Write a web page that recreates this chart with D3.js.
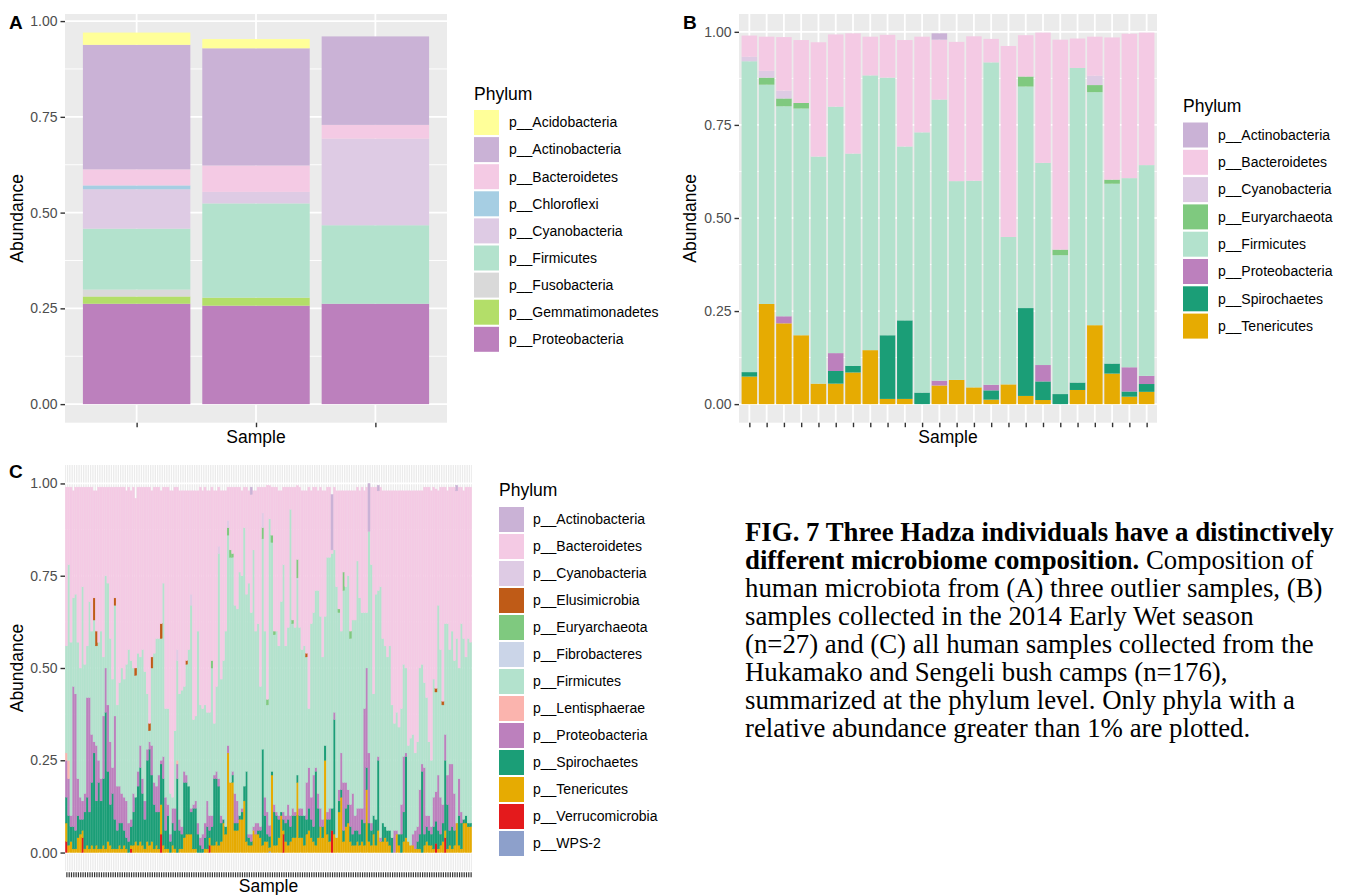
<!DOCTYPE html>
<html>
<head>
<meta charset="utf-8">
<script src="https://cdn.jsdelivr.net/npm/d3@7"></script>
<style>
  body { margin: 0; background: #fff; }
</style>
</head>
<body>
<svg id="fig" width="1347" height="895"></svg>
<script>
// ---------- colours (shared across the three panels) ----------
const phylumColors = {
  "p__Acidobacteria": "#ffff99",
  "p__Actinobacteria": "#cab2d6",
  "p__Bacteroidetes": "#f4cae4",
  "p__Chloroflexi": "#a6cee3",
  "p__Cyanobacteria": "#decbe4",
  "p__Elusimicrobia": "#bf5b17",
  "p__Euryarchaeota": "#7fc97f",
  "p__Fibrobacteres": "#cbd5e8",
  "p__Firmicutes": "#b3e2cd",
  "p__Fusobacteria": "#d9d9d9",
  "p__Gemmatimonadetes": "#b3de69",
  "p__Lentisphaerae": "#fbb4ae",
  "p__Proteobacteria": "#bc80bd",
  "p__Spirochaetes": "#1b9e77",
  "p__Tenericutes": "#e6ab02",
  "p__Verrucomicrobia": "#e41a1c",
  "p__WPS-2": "#8da0cb"
};

const yTicks = [0, 0.25, 0.5, 0.75, 1];
const yMinor = [0.125, 0.375, 0.625, 0.875];

// ---------- panel A : three outlier samples ----------
const samplesA = ["A1", "A2", "A3"];
const phylaA = ["p__Acidobacteria", "p__Actinobacteria", "p__Bacteroidetes", "p__Chloroflexi",
  "p__Cyanobacteria", "p__Firmicutes", "p__Fusobacteria", "p__Gemmatimonadetes", "p__Proteobacteria"];
const aAcido   = [0.032, 0.024, 0];
const aActino  = [0.325, 0.306, 0.231];
const aBacter  = [0.042, 0.069, 0.036];
const aChloro  = [0.010, 0, 0];
const aCyano   = [0.103, 0.030, 0.226];
const aFirm    = [0.159, 0.246, 0.205];
const aFuso    = [0.018, 0, 0];
const aGemma   = [0.019, 0.021, 0];
const aProteo  = [0.262, 0.257, 0.262];

// ---------- panel B : 2014 Early Wet season ----------
const samplesB = d3.range(1, 25).map(i => "B" + i);
const phylaB = ["p__Actinobacteria", "p__Bacteroidetes", "p__Cyanobacteria", "p__Euryarchaeota",
  "p__Firmicutes", "p__Proteobacteria", "p__Spirochaetes", "p__Tenericutes"];
const bActino = [0, 0, 0, 0, 0, 0, 0, 0, 0, 0, 0, 0.017, 0, 0, 0, 0, 0, 0, 0, 0, 0, 0, 0, 0];
const bBacter = [0.057, 0.092, 0.144, 0.169, 0.307, 0.194, 0.323, 0.104, 0.115, 0.286, 0.257, 0.161,
  0.374, 0.388, 0.063, 0.513, 0.111, 0.350, 0.564, 0.079, 0.105, 0.382, 0.388, 0.356];
const bCyano  = [0.012, 0.018, 0.021, 0, 0, 0, 0, 0, 0, 0, 0, 0, 0, 0, 0, 0, 0, 0, 0, 0, 0.025, 0, 0, 0];
const bEury   = [0, 0.019, 0.021, 0.015, 0, 0, 0, 0, 0, 0, 0, 0, 0, 0, 0, 0, 0.027, 0, 0.015, 0, 0.019, 0.011, 0, 0];
const bFirm   = [0.835, 0.589, 0.564, 0.609, 0.610, 0.662, 0.570, 0.738, 0.692, 0.467, 0.699, 0.755,
  0.534, 0.555, 0.866, 0.396, 0.595, 0.543, 0.373, 0.845, 0.626, 0.483, 0.508, 0.566];
const bProteo = [0, 0, 0.019, 0, 0, 0.048, 0, 0, 0, 0, 0, 0.013, 0, 0, 0.015, 0, 0, 0.044, 0, 0, 0, 0, 0.065, 0.022];
const bSpiro  = [0.012, 0, 0, 0, 0, 0.034, 0.018, 0, 0.171, 0.211, 0.031, 0, 0, 0, 0.025, 0, 0.236, 0.050,
  0.027, 0.020, 0, 0.027, 0.014, 0.021];
const bTener  = [0.074, 0.269, 0.217, 0.185, 0.055, 0.055, 0.085, 0.145, 0.014, 0.014, 0, 0.050, 0.065,
  0.045, 0.012, 0.053, 0.022, 0.011, 0, 0.038, 0.212, 0.082, 0.020, 0.033];

// ---------- panel C : all Hukamako and Sengeli samples (n=176) ----------
const samplesC = d3.range(1, 177).map(i => "C" + i);
const phylaC = ["p__Actinobacteria", "p__Bacteroidetes", "p__Cyanobacteria", "p__Elusimicrobia",
  "p__Euryarchaeota", "p__Fibrobacteres", "p__Firmicutes", "p__Lentisphaerae", "p__Proteobacteria",
  "p__Spirochaetes", "p__Tenericutes", "p__Verrucomicrobia", "p__WPS-2"];
const cTener = [
  .05,.02,.03,.01,.01,.04,.05,.02,.01,.02, .01,.02,.01,.02,.01,.01,.02,.01,.03,.02,
  .01,.01,.01,.02,.01,.02,.01,0,.01,.02, .03,.02,.03,.02,.01,.03,.02,.03,.01,.02,
  .01,.08,.02,.01,.01,0,.02,.01,0,.01, .01,.04,.05,.05,.05,.01,.01,0,0,0,
  .01,.01,.02,.02,.02,.03,.02,.03,.08,.05, .27,.19,.19,.06,.06,.09,.09,.14,.03,.02,
  .02,.06,.05,.05,.04,.02,.03,.03,.01,.21, .02,.02,.04,.10,.01,.03,.02,.03,.04,.04,
  .19,.04,.04,.02,.05,.06,.04,.03,.02,.04, .07,.04,.25,.05,.03,0,.05,.04,.11,.15,
  .03,.07,.08,.03,.02,.02,.03,.02,.03,.02, .17,.03,.02,.05,.02,.06,.03,.03,.04,.03,
  .02,0,0,.05,.02,0,.03,.04,.03,.02, .02,.01,.01,.01,0,.02,.03,.02,.02,.01,
  0,.01,.02,.03,.02,.01,.02,.01,.02,.08, .02,.01,.08,.08,.07,.07];
const cSpiro = [
  .07,.08,.04,.06,.05,.06,.04,.03,.10,.13, .10,.17,.26,.12,.18,.13,.18,.37,.19,.11,
  .15,.08,.05,.06,.07,.04,.03,.03,.05,.09, .12,.16,.20,.14,.08,.22,.26,.18,.12,.09,
  .10,.11,.18,.05,.09,.03,.06,.05,.20,.05, .04,.15,.14,.13,.06,.11,.11,.05,.02,.01,
  .03,.06,.02,.05,.18,.17,.16,.05,.01,.02, 0,0,.02,.02,.02,.01,.02,.04,.19,.02,
  .01,0,0,.01,.02,.26,.07,.02,.03,.01, .09,.08,.05,.01,.03,.05,.07,.04,.06,.06,
  .02,.06,.06,.08,.04,.06,.05,.04,.20,.08, 0,.03,.04,.04,.06,.06,.31,0,.03,.02,
  .03,.05,.05,.04,.03,.04,.03,.03,.06,.06, .06,.05,.04,.05,.07,.19,0,.05,.03,.03,
  .04,.04,0,0,.03,.05,.08,.22,0,0, 0,0,.02,.04,.22,.03,.04,.04,.03,.06,
  .06,.05,.03,.05,.19,.12,.04,.06,.04,0, .08,.07,.01,.02,.01,.01];
const cProteo = [
  .10,.10,.03,.38,.37,.10,.06,.05,.05,.27, .31,.13,.03,.15,.06,.06,.17,.12,.18,.17,
  .07,.28,.12,.10,.08,.09,.10,.05,.02,.05, 0,.04,.06,.04,.05,.03,.02,.08,.06,.07,
  .10,.01,.06,.09,.03,.02,.04,.06,.04,.03, .02,.03,.02,0,.01,.01,.02,.03,.02,.04,
  .04,.07,.04,.03,.01,.02,.02,.02,0,0, .02,0,.01,.08,.06,0,.01,0,0,.01,
  .02,.01,.03,.02,.01,0,.05,.06,.03,0, .02,.01,.01,0,.02,.02,.04,.03,.02,.01,
  0,.02,.02,0,.10,.11,.06,.14,.01,.04, .05,.02,0,.02,.03,0,.02,0,.03,.10,
  .13,.07,.04,.06,.11,.04,.06,.07,.03,.31, .27,.19,.02,0,0,.01,.01,0,0,0,
  0,0,.06,.01,0,.08,.15,.01,0,0, .03,.05,.04,.12,.02,.18,.03,.04,.02,.08,
  .08,.15,.10,.05,.07,.08,.18,.17,.10,0, .10,.03,0,0,0,0];
const cFirm = [
  .29,.53,.47,.24,.27,.37,.35,.58,.35,.14, .26,.28,.33,.27,.32,.40,.16,.25,.33,.28,
  .24,.30,.22,.28,.34,.32,.37,.47,.43,.34, .33,.32,.24,.35,.35,.15,.03,.21,.35,.40,
  .37,.33,.47,.24,.26,.11,.03,.21,.27,.34, .37,.23,.30,.37,.55,.23,.23,.52,.36,.34,
  .32,.24,.28,.40,.14,.23,.61,.37,.43,.53, .57,.61,.58,.51,.52,.66,.63,.70,.48,.68,
  .60,.75,.52,.54,.38,.57,.45,.29,.83,.62, .46,.49,.46,.57,.67,.46,.48,.83,.50,.50,
  .53,.49,.43,.46,.34,.16,.47,.44,.48,.55, .52,.44,.35,.69,.68,.69,.44,.68,.48,.33,
  .52,.53,.58,.45,.47,.53,.67,.57,.53,.26, .15,.60,.70,.33,.61,.45,.68,.50,.49,.47,
  .50,.36,.29,.32,.29,.26,.25,.23,.26,.29, .27,.21,.23,.33,.27,.23,.32,.20,.18,.32,
  .27,.46,.40,.27,.30,.41,.31,.36,.36,.50, .30,.51,.49,.43,.50,.49];
const cBacter = [
  .43,.21,.42,.29,.29,.42,.49,.27,.48,.43, .31,.39,.29,.38,.42,.39,.46,.24,.26,.41,
  .52,.30,.59,.53,.49,.52,.47,.44,.46,.49, .46,.45,.46,.44,.50,.56,.64,.45,.45,.41,
  .41,.36,.26,.60,.60,.82,.83,.66,.44,.55, .54,.53,.46,.43,.28,.62,.61,.38,.59,.59,
  .59,.60,.60,.47,.63,.53,.16,.51,.46,.38, .09,.17,.18,.32,.33,.23,.23,.11,.29,.25,
  .32,.16,.38,.37,.54,.07,.39,.58,.09,.13, .39,.39,.42,.30,.21,.43,.38,.06,.36,.38,
  .20,.38,.43,.42,.44,.60,.36,.34,.28,.27, .35,.45,.34,.19,.19,.01,.17,.26,.32,.38,
  .22,.26,.23,.38,.35,.35,.20,.29,.34,.33, .34,0,.21,.56,.29,.27,.27,.40,.42,.45,
  .42,.58,.63,.60,.64,.59,.47,.48,.69,.67, .66,.71,.68,.48,.47,.53,.57,.69,.73,.52,
  .54,.31,.44,.58,.37,.36,.44,.39,.47,.40, .49,.37,.40,.46,.41,.42];
// rare phyla: [sample index, abundance]
const cActino = [[80, .02], [115, .15], [131, .13], [135, .015], [169, .015]];
const cCyano  = [[48, .03], [54, .03], [66, .02], [70, .02], [85, .04]];
const cElusi  = [[12, .06], [13, .04], [21, .02], [30, .02], [36, .02], [37, .03], [41, .04],
  [52, .01], [104, .01], [160, .01], [163, .01]];
const cEury   = [[63, .02], [70, .02], [71, .02], [72, .01], [85, .03], [87, .015], [89, .02],
  [90, .01], [98, .01], [100, .05], [118, .01], [120, .05], [123, .02]];
const cFibro  = [[100, .004]];
const cLenti  = [[0, .02], [1, .05], [48, .01]];
const cVerru  = [[0, .03], [7, .04], [28, .01], [41, .05], [62, .02], [94, .05], [115, .06],
  [160, .025], [164, .04]];
const cWps    = [[88, .004]];

const captionLines = [
  [["FIG. 7 Three Hadza individuals have a distinctively", true]],
  [["different microbiome composition.", true], [" Composition of", false]],
  [["human microbiota from (A) three outlier samples, (B)", false]],
  [["samples collected in the 2014 Early Wet season", false]],
  [["(n=27) and (C) all human samples collected from the", false]],
  [["Hukamako and Sengeli bush camps (n=176),", false]],
  [["summarized at the phylum level. Only phyla with a", false]],
  [["relative abundance greater than 1% are plotted.", false]]
];

// ---------- drawing ----------
const svg = d3.select("#fig");
const FONT = "'Liberation Sans', Arial, Helvetica, sans-serif";

function expandSparse(list, n) {
  const a = new Array(n).fill(0);
  list.forEach(([i, v]) => { a[i] = v; });
  return a;
}

function drawPanel(o) {
  const g = svg.append("g");

  const x = d3.scalePoint().domain(o.samples).range([o.left, o.right]).padding(0.6);
  const bw = x.step() * 0.9;

  const rows = o.samples.map((s, i) => {
    const r = { sample: s };
    o.phyla.forEach(p => { r[p] = o.values[p][i]; });
    return r;
  });
  // ggplot stacks the first factor level on top
  const keys = o.phyla.slice().reverse();
  const stacked = d3.stack().keys(keys)(rows);
  const maxTotal = d3.max(rows, r => d3.sum(keys, k => r[k]));

  const y = d3.scaleLinear()
    .domain([-0.05 * maxTotal, 1.05 * maxTotal])
    .range([o.bottom, o.top]);

  // panel background + grid
  g.append("rect")
    .attr("x", o.left).attr("y", o.top)
    .attr("width", o.right - o.left).attr("height", o.bottom - o.top)
    .attr("fill", "#ebebeb");

  g.selectAll(".minor").data(yMinor).enter().append("line")
    .attr("x1", o.left).attr("x2", o.right)
    .attr("y1", d => y(d)).attr("y2", d => y(d))
    .attr("stroke", "#fff").attr("stroke-width", 0.9);

  g.selectAll(".major").data(yTicks).enter().append("line")
    .attr("x1", o.left).attr("x2", o.right)
    .attr("y1", d => y(d)).attr("y2", d => y(d))
    .attr("stroke", "#fff").attr("stroke-width", 1.8);

  g.selectAll(".xgrid").data(o.samples).enter().append("line")
    .attr("x1", d => x(d)).attr("x2", d => x(d))
    .attr("y1", o.top).attr("y2", o.bottom)
    .attr("stroke", "#fff").attr("stroke-width", o.xGridWidth || 1.8);

  // stacked bars
  stacked.forEach(layer => {
    g.append("g")
      .attr("fill", phylumColors[layer.key])
      .attr("stroke", o.barOutline ? phylumColors[layer.key] : "none")
      .attr("stroke-width", o.barOutline || 0)
      .selectAll("rect")
      .data(layer.filter(d => d[1] - d[0] > 0))
      .enter().append("rect")
      .attr("x", d => x(d.data.sample) - bw / 2)
      .attr("width", bw)
      .attr("y", d => y(d[1]))
      .attr("height", d => y(d[0]) - y(d[1]));
  });

  // axes
  const yAxis = d3.axisLeft(y)
    .tickValues(yTicks)
    .tickFormat(d3.format(".2f"))
    .tickSize(4.5)
    .tickPadding(3);
  const ya = g.append("g").attr("transform", "translate(" + o.left + ",0)").call(yAxis);
  ya.select(".domain").remove();
  ya.selectAll("line").attr("stroke", "#333").attr("stroke-width", 1.4);
  ya.selectAll("text").attr("fill", "#4d4d4d").attr("font-family", FONT).attr("font-size", "14px");

  const xAxis = d3.axisBottom(x).tickSize(o.xTickLen || 4.5).tickFormat("");
  const xa = g.append("g").attr("transform", "translate(0," + (o.bottom + (o.xTickGap || 0)) + ")").call(xAxis);
  xa.select(".domain").remove();
  xa.selectAll("line").attr("stroke", "#333").attr("stroke-width", o.xTickWidth || 1.4);

  // titles
  g.append("text")
    .attr("transform", "translate(" + o.yTitleX + "," + ((o.top + o.bottom) / 2) + ") rotate(-90)")
    .attr("text-anchor", "middle").attr("dy", "0.35em")
    .attr("font-family", FONT).attr("font-size", "17.5px").attr("fill", "#000")
    .text("Abundance");

  g.append("text")
    .attr("x", (o.left + o.right) / 2).attr("y", o.xTitleY)
    .attr("text-anchor", "middle")
    .attr("font-family", FONT).attr("font-size", "17.5px").attr("fill", "#000")
    .text("Sample");

  g.append("text")
    .attr("x", o.tagX).attr("y", o.tagY)
    .attr("font-family", FONT).attr("font-size", "19px").attr("font-weight", "bold")
    .text(o.tag);

  // legend
  const lg = g.append("g");
  lg.append("text")
    .attr("x", o.legendX).attr("y", o.legendTitleY)
    .attr("font-family", FONT).attr("font-size", "17.5px").attr("fill", "#000")
    .text("Phylum");

  const item = lg.selectAll(".item").data(o.phyla).enter().append("g")
    .attr("transform", (d, i) => "translate(" + o.legendX + "," + (o.legendTop + i * o.legendStep) + ")");
  item.append("rect")
    .attr("width", 25).attr("height", 25)
    .attr("fill", d => phylumColors[d]);
  item.append("text")
    .attr("x", o.legendTextDx).attr("y", 12.5).attr("dy", "0.35em")
    .attr("font-family", FONT).attr("font-size", "14px").attr("fill", "#000")
    .text(d => d);
}

drawPanel({
  samples: samplesA, phyla: phylaA,
  values: {
    "p__Acidobacteria": aAcido, "p__Actinobacteria": aActino, "p__Bacteroidetes": aBacter,
    "p__Chloroflexi": aChloro, "p__Cyanobacteria": aCyano, "p__Firmicutes": aFirm,
    "p__Fusobacteria": aFuso, "p__Gemmatimonadetes": aGemma, "p__Proteobacteria": aProteo
  },
  left: 65, right: 447, top: 14, bottom: 422.7,
  yTitleX: 17, xTitleY: 443, tag: "A", tagX: 9, tagY: 29,
  legendX: 474, legendTitleY: 100, legendTop: 110, legendStep: 27.1, legendTextDx: 35
});

drawPanel({
  samples: samplesB, phyla: phylaB,
  values: {
    "p__Actinobacteria": bActino, "p__Bacteroidetes": bBacter, "p__Cyanobacteria": bCyano,
    "p__Euryarchaeota": bEury, "p__Firmicutes": bFirm, "p__Proteobacteria": bProteo,
    "p__Spirochaetes": bSpiro, "p__Tenericutes": bTener
  },
  left: 739, right: 1157, top: 14, bottom: 422.7,
  yTitleX: 690, xTitleY: 443, tag: "B", tagX: 683, tagY: 29,
  legendX: 1183, legendTitleY: 112, legendTop: 122.5, legendStep: 27.3, legendTextDx: 35
});

const nC = samplesC.length;
drawPanel({
  samples: samplesC, phyla: phylaC,
  values: {
    "p__Actinobacteria": expandSparse(cActino, nC), "p__Bacteroidetes": cBacter,
    "p__Cyanobacteria": expandSparse(cCyano, nC), "p__Elusimicrobia": expandSparse(cElusi, nC),
    "p__Euryarchaeota": expandSparse(cEury, nC), "p__Fibrobacteres": expandSparse(cFibro, nC),
    "p__Firmicutes": cFirm, "p__Lentisphaerae": expandSparse(cLenti, nC),
    "p__Proteobacteria": cProteo, "p__Spirochaetes": cSpiro, "p__Tenericutes": cTener,
    "p__Verrucomicrobia": expandSparse(cVerru, nC), "p__WPS-2": expandSparse(cWps, nC)
  },
  left: 65, right: 472, top: 465, bottom: 871,
  xGridWidth: 1.0, xTickWidth: 1.2, xTickGap: 1.3, xTickLen: 5, barOutline: 0.4,
  yTitleX: 17, xTitleY: 892, tag: "C", tagX: 9, tagY: 478,
  legendX: 499, legendTitleY: 496, legendTop: 507, legendStep: 27, legendTextDx: 34
});

// caption
const cap = svg.append("text")
  .attr("font-family", "'Liberation Serif', 'Times New Roman', serif")
  .attr("font-size", "26.8px").attr("fill", "#000");
captionLines.forEach((parts, i) => {
  const line = cap.append("tspan").attr("x", 745).attr("y", 541 + i * 28);
  parts.forEach(([txt, bold]) => {
    line.append("tspan").attr("font-weight", bold ? "bold" : "normal").text(txt);
  });
});
</script>
</body>
</html>
